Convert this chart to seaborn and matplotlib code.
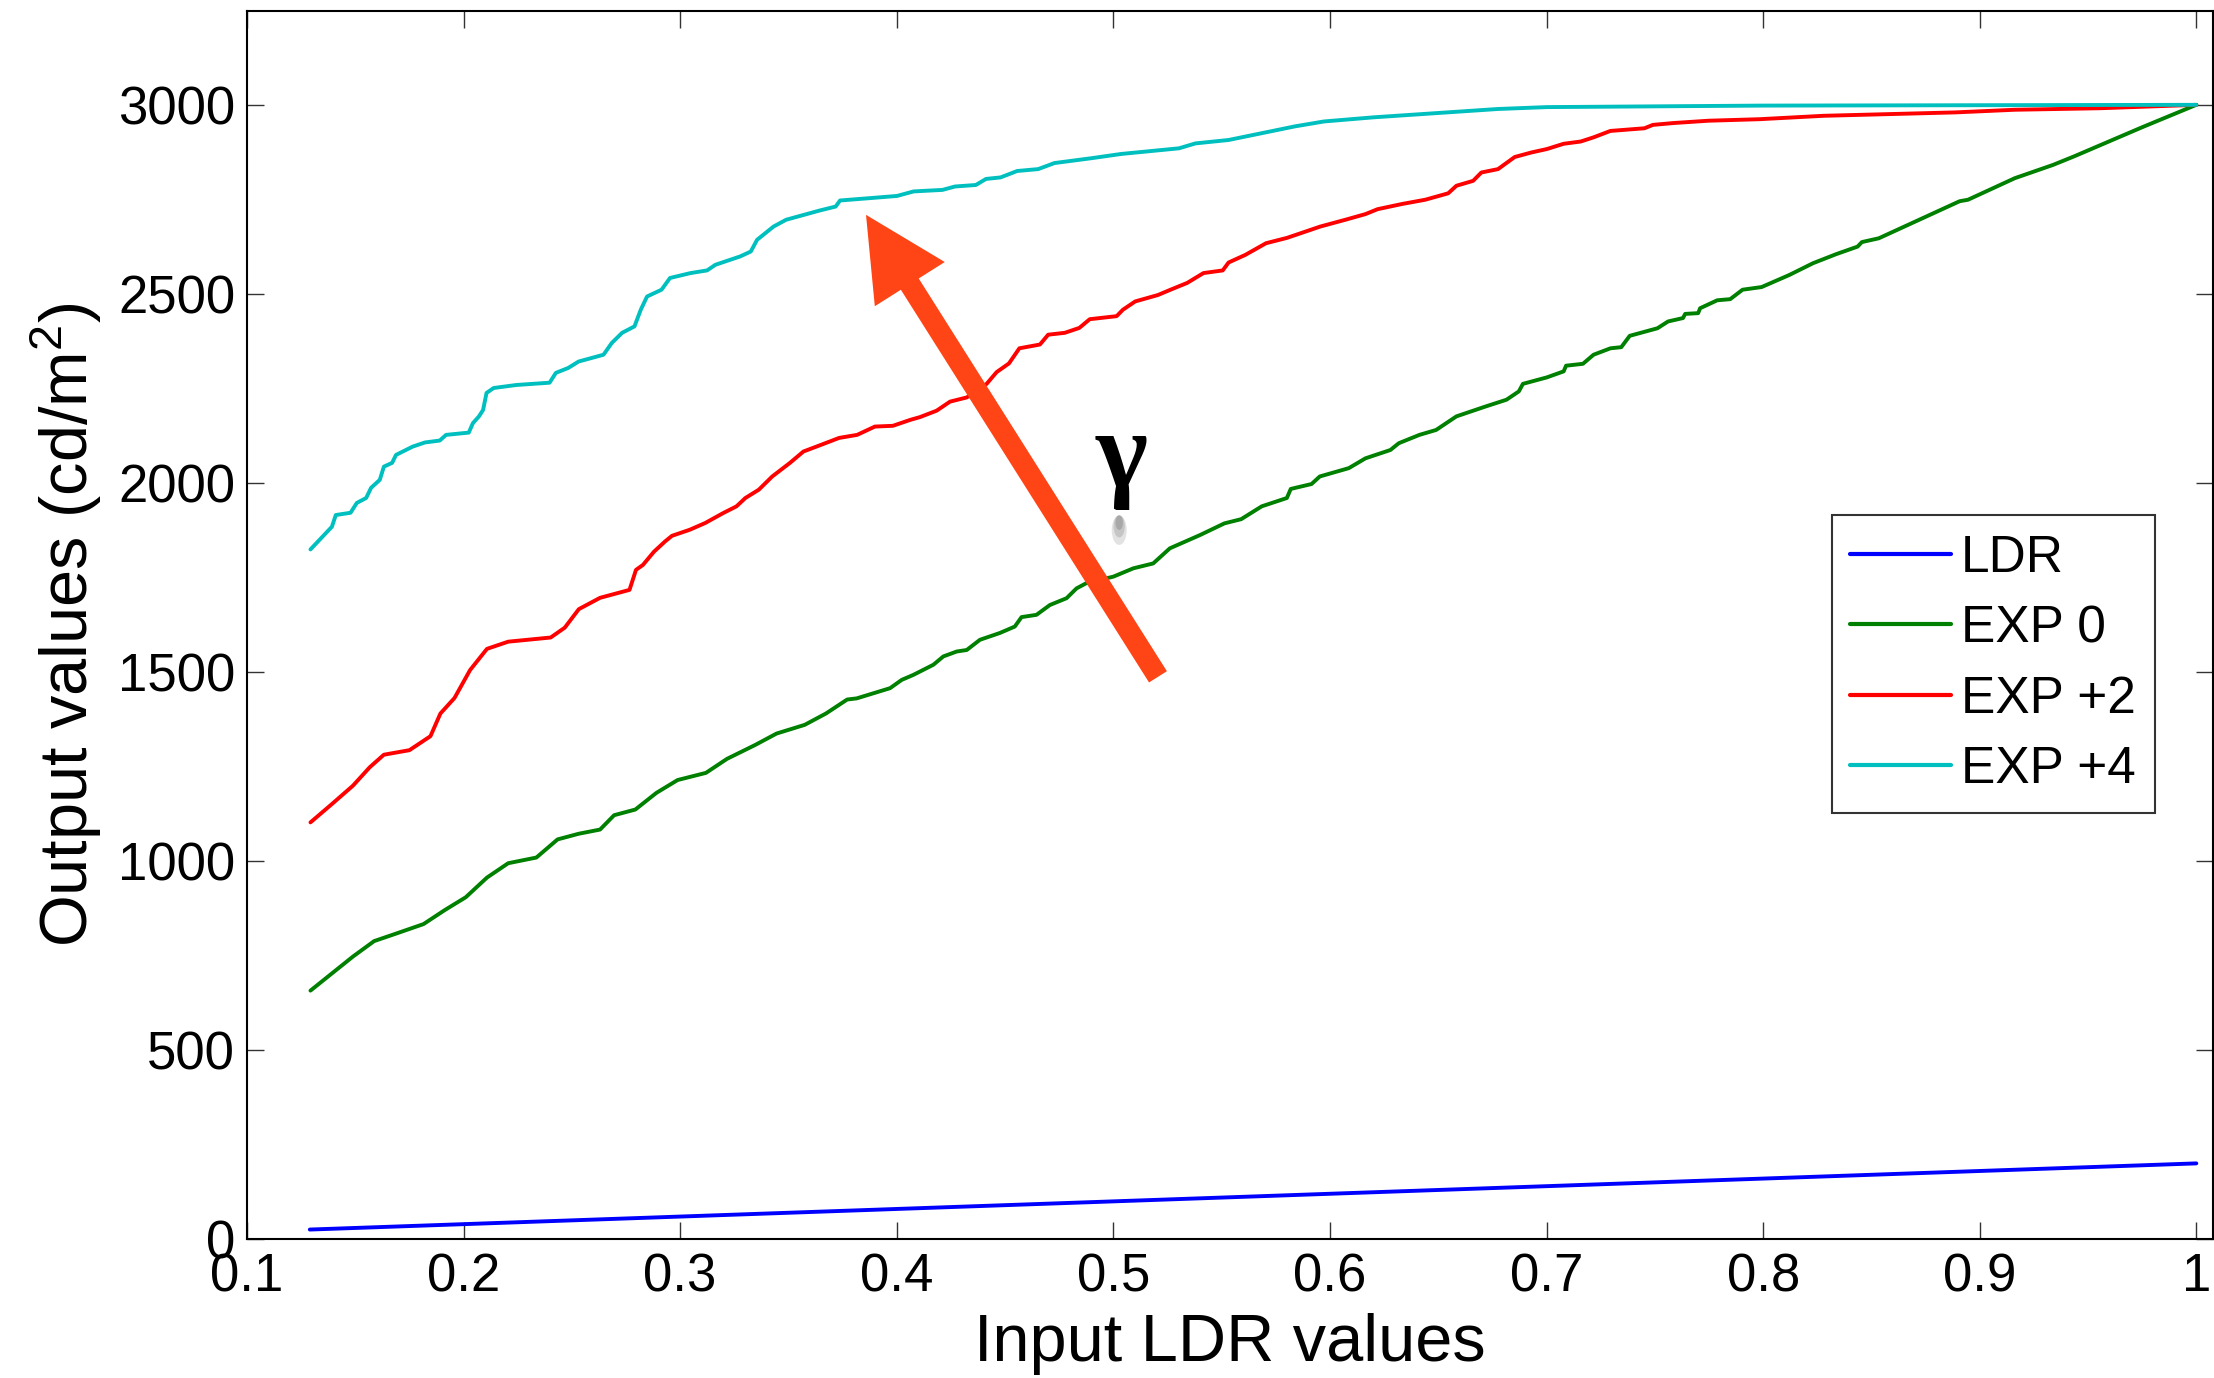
import numpy as np
import pandas as pd
import matplotlib
matplotlib.use("Agg")
import matplotlib.pyplot as plt
import seaborn as sns
from matplotlib.patches import Ellipse

# ---------------- data ----------------
series_names = ["LDR", "EXP 0", "EXP +2", "EXP +4"]
series_colors = ["#0000FF", "#008000", "#FF0000", "#00BFBF"]

ldr_points = [(0.129, 25), (1.0, 200)]

exp0_points = [
    (0.1293, 657), (0.1391, 702), (0.1489, 747), (0.1587, 788), (0.1684, 807),
    (0.1815, 833), (0.1913, 870), (0.2010, 904), (0.2108, 956), (0.2206, 994),
    (0.2336, 1009), (0.2434, 1057), (0.2532, 1072), (0.2630, 1083), (0.2695, 1121),
    (0.2793, 1136), (0.2890, 1180), (0.2988, 1214), (0.3119, 1233), (0.3216, 1270),
    (0.3347, 1307), (0.3445, 1337), (0.3575, 1360), (0.3673, 1390), (0.3771, 1427),
    (0.3815, 1430), (0.3969, 1457), (0.4023, 1479), (0.4076, 1492), (0.4169, 1519),
    (0.4215, 1541), (0.4277, 1554), (0.4323, 1558), (0.4384, 1585), (0.4476, 1603),
    (0.4545, 1620), (0.4576, 1645), (0.4645, 1651), (0.4707, 1677), (0.4784, 1695),
    (0.4830, 1721), (0.4876, 1735), (0.5000, 1752), (0.5092, 1774), (0.5184, 1787),
    (0.5261, 1827), (0.5400, 1862), (0.5513, 1893), (0.5590, 1904), (0.5685, 1938),
    (0.5801, 1960), (0.5819, 1984), (0.5915, 1997), (0.5953, 2017), (0.6087, 2039),
    (0.6164, 2065), (0.6279, 2087), (0.6318, 2105), (0.6413, 2127), (0.6490, 2140),
    (0.6584, 2176), (0.6718, 2202), (0.6815, 2220), (0.6872, 2242), (0.6891, 2262),
    (0.7001, 2279), (0.7079, 2295), (0.7090, 2310), (0.7168, 2315), (0.7217, 2339),
    (0.7295, 2356), (0.7345, 2359), (0.7384, 2389), (0.7512, 2409), (0.7561, 2427),
    (0.7630, 2436), (0.7640, 2447), (0.7700, 2449), (0.7709, 2462), (0.7788, 2483),
    (0.7848, 2486), (0.7905, 2511), (0.7993, 2518), (0.8121, 2550), (0.8230, 2581),
    (0.8337, 2605), (0.8436, 2625), (0.8456, 2637), (0.8534, 2647), (0.8671, 2683),
    (0.8907, 2745), (0.8946, 2749), (0.9162, 2806), (0.9338, 2841), (0.9437, 2864),
    (0.9751, 2941), (1.0000, 3000),
]

exp2_points = [
    (0.1293, 1102), (0.1391, 1150), (0.1489, 1199), (0.1567, 1248), (0.1632, 1281),
    (0.1750, 1293), (0.1847, 1330), (0.1893, 1390), (0.1958, 1431), (0.2030, 1505),
    (0.2108, 1561), (0.2206, 1580), (0.2402, 1591), (0.2467, 1617), (0.2532, 1666),
    (0.2630, 1696), (0.2766, 1717), (0.2796, 1770), (0.2828, 1783), (0.2879, 1818),
    (0.2930, 1845), (0.2962, 1860), (0.3044, 1876), (0.3116, 1894), (0.3198, 1920),
    (0.3260, 1938), (0.3301, 1960), (0.3363, 1982), (0.3425, 2017), (0.3507, 2053),
    (0.3569, 2083), (0.3652, 2101), (0.3734, 2119), (0.3817, 2127), (0.3899, 2149),
    (0.3982, 2151), (0.4064, 2167), (0.4107, 2174), (0.4184, 2191), (0.4246, 2215),
    (0.4323, 2226), (0.4415, 2262), (0.4461, 2293), (0.4518, 2316), (0.4566, 2356),
    (0.4661, 2366), (0.4699, 2392), (0.4776, 2397), (0.4843, 2410), (0.4891, 2433),
    (0.5015, 2441), (0.5044, 2458), (0.5101, 2480), (0.5206, 2497), (0.5264, 2511),
    (0.5341, 2529), (0.5416, 2555), (0.5505, 2562), (0.5532, 2583), (0.5609, 2603),
    (0.5705, 2634), (0.5801, 2648), (0.5868, 2661), (0.5955, 2678), (0.6071, 2696),
    (0.6164, 2711), (0.6220, 2724), (0.6335, 2738), (0.6440, 2749), (0.6546, 2766),
    (0.6584, 2786), (0.6661, 2799), (0.6699, 2821), (0.6776, 2830), (0.6853, 2862),
    (0.6930, 2874), (0.7001, 2883), (0.7079, 2897), (0.7158, 2903), (0.7217, 2914),
    (0.7295, 2931), (0.7452, 2938), (0.7491, 2947), (0.7589, 2952), (0.7748, 2958),
    (0.7983, 2962), (0.8278, 2971), (0.8887, 2980), (0.9162, 2987), (0.9555, 2991),
    (1.0000, 3000),
]

exp4_points = [
    (0.1293, 1824), (0.1392, 1884), (0.1410, 1915), (0.1478, 1921), (0.1507, 1947),
    (0.1550, 1960), (0.1573, 1987), (0.1613, 2008), (0.1632, 2043), (0.1670, 2053),
    (0.1688, 2074), (0.1765, 2096), (0.1822, 2107), (0.1890, 2112), (0.1919, 2127),
    (0.2024, 2133), (0.2043, 2158), (0.2071, 2176), (0.2090, 2193), (0.2106, 2238),
    (0.2139, 2251), (0.2244, 2259), (0.2397, 2265), (0.2426, 2291), (0.2483, 2304),
    (0.2531, 2321), (0.2646, 2339), (0.2684, 2370), (0.2732, 2397), (0.2789, 2414),
    (0.2818, 2458), (0.2847, 2493), (0.2914, 2511), (0.2953, 2542), (0.3048, 2555),
    (0.3124, 2562), (0.3163, 2577), (0.3277, 2599), (0.3326, 2612), (0.3355, 2643),
    (0.3431, 2678), (0.3489, 2696), (0.3641, 2720), (0.3718, 2731), (0.3738, 2747),
    (0.3871, 2753), (0.4001, 2759), (0.4078, 2771), (0.4211, 2775), (0.4269, 2784),
    (0.4365, 2788), (0.4412, 2804), (0.4479, 2808), (0.4556, 2825), (0.4653, 2830),
    (0.4728, 2846), (0.4901, 2859), (0.5035, 2870), (0.5303, 2885), (0.5379, 2898),
    (0.5532, 2907), (0.5685, 2925), (0.5838, 2943), (0.5972, 2956), (0.6202, 2967),
    (0.6489, 2978), (0.6775, 2989), (0.7001, 2994), (0.8000, 2998), (0.9000, 2999),
    (1.0000, 3000),
]

x_ticks = [0.1, 0.2, 0.3, 0.4, 0.5, 0.6, 0.7, 0.8, 0.9, 1.0]
x_tick_labels = ["0.1", "0.2", "0.3", "0.4", "0.5", "0.6", "0.7", "0.8", "0.9", "1"]
y_ticks = [0, 500, 1000, 1500, 2000, 2500, 3000]
y_tick_labels = ["0", "500", "1000", "1500", "2000", "2500", "3000"]

# ---------------- style ----------------
sns.set_style("ticks")
plt.rcParams["font.family"] = ["Liberation Sans", "DejaVu Sans"]
plt.rcParams["mathtext.fontset"] = "custom"
plt.rcParams["mathtext.rm"] = "Liberation Sans"
plt.rcParams["mathtext.it"] = "Liberation Sans:italic"
plt.rcParams["mathtext.bf"] = "Liberation Sans:bold"
plt.rcParams["text.color"] = "black"
plt.rcParams["axes.labelcolor"] = "black"
plt.rcParams["xtick.color"] = "black"
plt.rcParams["ytick.color"] = "black"

W, H = 2214, 1378
fig = plt.figure(figsize=(W / 100, H / 100), dpi=100)
ax_left, ax_right, ax_bottom, ax_top = 247, 2213, 1239, 10.7
ax = fig.add_axes([ax_left / W, (H - ax_bottom) / H,
                   (ax_right - ax_left) / W, (ax_bottom - ax_top) / H])

all_points = [ldr_points, exp0_points, exp2_points, exp4_points]
for name, color, pts in zip(series_names, series_colors, all_points):
    df = pd.DataFrame(pts, columns=["x", "y"])
    sns.lineplot(data=df, x="x", y="y", color=color, label=name, ax=ax,
                 linewidth=2.8, sort=False, estimator=None, zorder=3)

ax.set_xlim(0.1, 1.0077)
ax.set_ylim(0, 3249)
ax.set_xticks(x_ticks)
ax.set_xticklabels(x_tick_labels)
ax.set_yticks(y_ticks)
ax.set_yticklabels(y_tick_labels)

for side in ["top", "right", "bottom", "left"]:
    ax.spines[side].set_visible(True)
    ax.spines[side].set_linewidth(1.5)
    ax.spines[side].set_color("black")

ax.tick_params(axis="both", direction="in", length=12, width=1.0,
               color="#333333", labelsize=38, labelcolor="black",
               top=True, right=True)
ax.tick_params(axis="x", pad=9.5)
ax.tick_params(axis="y", pad=8.6)

ax.set_xlabel("Input LDR values", fontsize=48, labelpad=8, color="black")
ax.set_ylabel("Output values (cd/m$^\\mathregular{2}$)", fontsize=48, labelpad=10,
              color="black")

# legend
leg = ax.legend(loc="upper left", bbox_to_anchor=(1831.7 / W, 1 - 515 / H),
                bbox_transform=fig.transFigure, fontsize=37, frameon=True,
                fancybox=False, handlelength=1.96, handletextpad=0.2,
                labelspacing=0.42, borderpad=0.36, borderaxespad=0)
leg.get_frame().set_edgecolor("black")
leg.get_frame().set_linewidth(1.5)
for text in leg.get_texts():
    text.set_color("black")
for line in leg.get_lines():
    line.set_linewidth(3.0)

# annotation arrow (gamma direction)
ax.annotate("", xy=(0.3858, 2709), xytext=(0.5206, 1487),
            xycoords="data", textcoords="data",
            arrowprops=dict(arrowstyle="simple,head_length=2.95,head_width=2.98,tail_width=0.76",
                            mutation_scale=20, color="#FF4416", shrinkA=0, shrinkB=0,
                            linewidth=0),
            zorder=5)

ax.text(0.504, 1989, "\u03b3", fontsize=80, fontweight="bold",
        family=["Liberation Serif", "DejaVu Serif"], ha="center", va="baseline",
        color="black", zorder=6)

# faint reflection under the gamma
for i, (a, s) in enumerate([(0.18, 1.0), (0.22, 0.75), (0.28, 0.5)]):
    e = Ellipse((0.5027, 1875 + 10 * i), width=0.0069 * s, height=78 * s,
                facecolor="#606060", edgecolor="none", alpha=a, zorder=4)
    ax.add_patch(e)

fig.savefig("out.png", dpi=100)
